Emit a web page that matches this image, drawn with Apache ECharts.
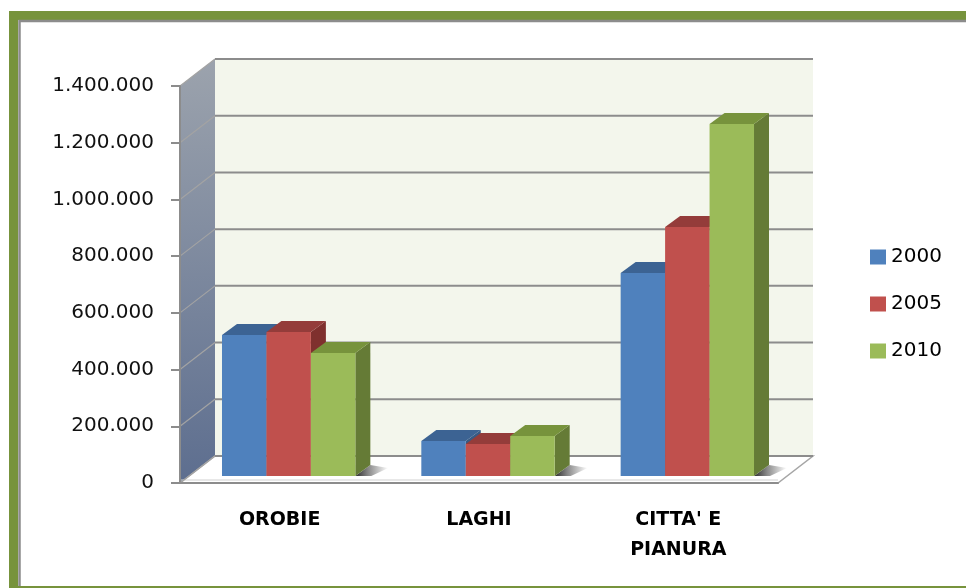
<!DOCTYPE html>
<html>
<head>
<meta charset="utf-8">
<title>Aree</title>
<script src="https://cdn.jsdelivr.net/npm/echarts@6/dist/echarts.min.js"></script>
<style>
  html, body { margin: 0; padding: 0; background: #fff; }
  #main { width: 966px; height: 588px; }
</style>
</head>
<body>
<div id="main"></div>
<script>
// dati
const categories = ['OROBIE', 'LAGHI', "CITTA' E\nPIANURA"];
const years = ['2000', '2005', '2010'];
const values2000 = [497000, 123000, 716000];
const values2005 = [508000, 113000, 878000];
const values2010 = [434000, 141000, 1241000];
const yTicks = [0, 200000, 400000, 600000, 800000, 1000000, 1200000, 1400000];

const seriesValues = [values2000, values2005, values2010];
const frontColors = ['#4f81bd', '#c0504d', '#9bbb59'];
const topColors = ['#3c6393', '#943c3a', '#77933c'];
const sideColors = ['#385a84', '#7f302e', '#657b36'];

// finto 3D: spostamento della parete di fondo e profondita' delle barre
const DEPTH = [35, -27];
const BAR_PLANE = [9, -7];
const BAR_DEPTH = [15, -11];

function plotBox(api) {
  const band = api.size([1, 0])[0];
  const p0 = api.coord([0, 0]);
  const pTop = api.coord([0, yTicks[yTicks.length - 1]]);
  const pR = api.coord([categories.length - 1, 0]);
  return {
    band: band,
    left: p0[0] - band / 2,
    right: pR[0] + band / 2,
    bottom: p0[1],
    top: pTop[1]
  };
}

// pareti e pavimento
function renderWalls(params, api) {
  const b = plotBox(api);
  const dx = DEPTH[0], dy = DEPTH[1];
  return {
    type: 'group',
    children: [
      {
        type: 'rect',
        shape: { x: b.left + dx, y: b.top + dy, width: b.right - b.left, height: b.bottom - b.top },
        style: { fill: '#f3f6ec' }
      },
      {
        type: 'polygon',
        shape: { points: [[b.left, b.bottom], [b.left, b.top], [b.left + dx, b.top + dy], [b.left + dx, b.bottom + dy]] },
        style: {
          fill: new echarts.graphic.LinearGradient(0, 0, 0, 1, [
            { offset: 0, color: '#9ca3ad' },
            { offset: 1, color: '#5d6e8f' }
          ])
        }
      },
      {
        type: 'polygon',
        shape: { points: [[b.left, b.bottom], [b.left + dx, b.bottom + dy], [b.right + dx, b.bottom + dy], [b.right, b.bottom]] },
        style: { fill: '#ffffff', stroke: '#a6a6a6', lineWidth: 1.5 }
      },
      {
        // spessore del pavimento
        type: 'line',
        shape: { x1: b.left, y1: b.bottom - 3, x2: b.right, y2: b.bottom - 3 },
        style: { stroke: '#d0d0d0', lineWidth: 1 }
      }
    ]
  };
}

// griglia sulla parete di fondo e sul fianco
function renderGrid(params, api) {
  const b = plotBox(api);
  const y = api.coord([0, api.value(1)])[1];
  const dx = DEPTH[0], dy = DEPTH[1];
  return {
    type: 'group',
    children: [
      {
        type: 'line',
        shape: { x1: b.left, y1: y, x2: b.left + dx, y2: y + dy },
        style: { stroke: '#a3a3a3', lineWidth: 1.2 }
      },
      {
        type: 'line',
        shape: { x1: b.left + dx, y1: y + dy, x2: b.right + dx, y2: y + dy },
        style: { stroke: '#8c8c8c', lineWidth: 2 }
      }
    ]
  };
}

function barRenderer(k) {
  return function (params, api) {
    const cat = api.value(0);
    const top = api.coord([cat, api.value(1)]);
    const base = api.coord([cat, 0]);
    const band = api.size([1, 0])[0];
    const w = band * 0.223;
    const x0 = top[0] + (k - 1.5) * w + BAR_PLANE[0];
    const x1 = x0 + w;
    const yt = top[1] + BAR_PLANE[1];
    const yb = base[1] + BAR_PLANE[1];
    const dx = BAR_DEPTH[0], dy = BAR_DEPTH[1];
    const children = [];
    if (k === 2) {
      // ombra sul pavimento
      children.push({
        type: 'polygon',
        shape: { points: [[x1, yb], [x1 + dx, yb + dy], [x1 + dx + 18, yb + dy + 3], [x1 + 16, yb]] },
        style: {
          fill: new echarts.graphic.LinearGradient(0, 0, 1, 0, [
            { offset: 0, color: 'rgba(30,30,30,0.95)' },
            { offset: 0.4, color: 'rgba(60,60,60,0.6)' },
            { offset: 1, color: 'rgba(60,60,60,0)' }
          ])
        }
      });
    }
    children.push({
      type: 'polygon',
      shape: { points: [[x1, yt], [x1 + dx, yt + dy], [x1 + dx, yb + dy], [x1, yb]] },
      style: { fill: sideColors[k] }
    });
    children.push({
      type: 'polygon',
      shape: { points: [[x0, yt], [x1, yt], [x1 + dx, yt + dy], [x0 + dx, yt + dy]] },
      style: { fill: topColors[k] }
    });
    children.push({
      type: 'rect',
      shape: { x: x0, y: yt, width: w, height: yb - yt },
      style: { fill: frontColors[k] }
    });
    return { type: 'group', children: children };
  };
}

function fmt(v) {
  return String(v).replace(/\B(?=(\d{3})+(?!\d))/g, '.');
}

const chart = echarts.init(document.getElementById('main'));

const series = [
  {
    name: 'walls',
    type: 'custom',
    silent: true,
    clip: false,
    z: 1,
    renderItem: renderWalls,
    data: [[0, 0]]
  },
  {
    name: 'grid',
    type: 'custom',
    silent: true,
    clip: false,
    z: 2,
    renderItem: renderGrid,
    data: yTicks.map(v => [0, v])
  }
];
years.forEach((y, k) => {
  series.push({
    name: y,
    type: 'custom',
    clip: false,
    z: 3,
    itemStyle: { color: frontColors[k] },
    renderItem: barRenderer(k),
    encode: { x: 0, y: 1 },
    data: seriesValues[k].map((v, i) => [i, v])
  });
});

chart.setOption({
  animation: false,
  backgroundColor: '#ffffff',
  textStyle: { fontFamily: 'DejaVu Sans' },
  graphic: [
    {
      type: 'rect',
      z: -10,
      shape: { x: 13.5, y: 15.5, width: 1000, height: 575 },
      style: { fill: null, stroke: '#77933c', lineWidth: 9 }
    },
    {
      type: 'polyline',
      z: -10,
      shape: { points: [[19.5, 586], [19.5, 21], [966, 21]] },
      style: { fill: null, stroke: '#8c8c8c', lineWidth: 2.5 }
    }
  ],
  legend: {
    data: years,
    orient: 'vertical',
    left: 870,
    top: 247,
    padding: 0,
    icon: 'rect',
    itemWidth: 16,
    itemHeight: 15,
    itemGap: 27,
    textStyle: { fontSize: 20, color: '#000', fontFamily: 'DejaVu Sans' }
  },
  grid: {
    left: 180,
    top: 86,
    width: 598,
    height: 397
  },
  xAxis: {
    type: 'category',
    data: categories,
    z: 10,
    axisLine: { lineStyle: { color: '#8c8c8c', width: 2 } },
    axisTick: { length: 9, lineStyle: { color: '#8c8c8c', width: 2 } },
    axisLabel: {
      margin: 22,
      fontSize: 19,
      fontWeight: 'bold',
      lineHeight: 30,
      color: '#000',
      fontFamily: 'DejaVu Sans',
      interval: 0
    }
  },
  yAxis: {
    type: 'value',
    min: 0,
    max: 1400000,
    interval: 200000,
    z: 10,
    axisLine: { show: true, lineStyle: { color: '#8c8c8c', width: 2 } },
    axisTick: { show: true, length: 9, lineStyle: { color: '#8c8c8c', width: 2 } },
    splitLine: { show: false },
    axisLabel: {
      margin: 26,
      fontSize: 20,
      color: '#111',
      fontFamily: 'DejaVu Sans',
      formatter: fmt
    }
  },
  series: series
});
</script>
</body>
</html>
